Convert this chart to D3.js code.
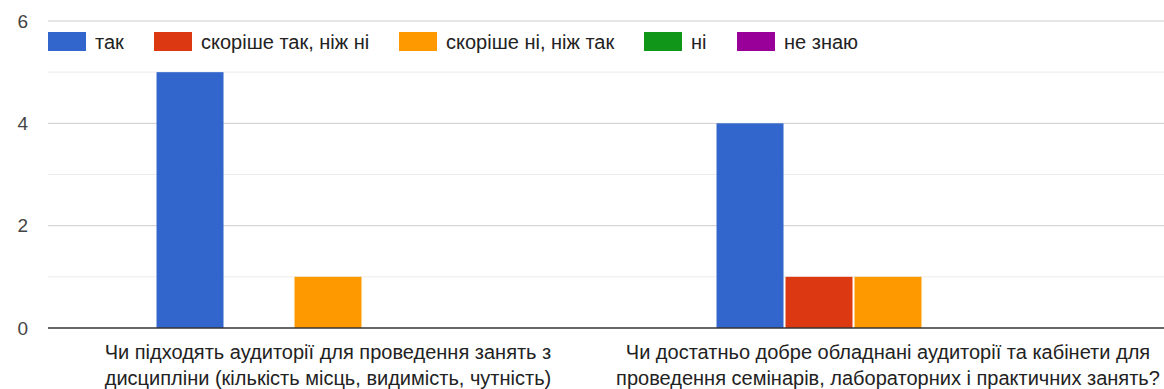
<!DOCTYPE html>
<html><head><meta charset="utf-8">
<script src="https://cdn.jsdelivr.net/npm/d3@7"></script>
<style>html,body{margin:0;padding:0;background:#fff;}svg{display:block;font-family:Arial,"Liberation Sans",sans-serif;}</style>
</head><body>
<svg id="c" width="1164" height="389"></svg>
<script>
const categories = ["q1", "q2"];
const categoryLines = [
  ["Чи підходять аудиторії для проведення занять з", "дисципліни (кількість місць, видимість, чутність)"],
  ["Чи достатньо добре обладнані аудиторії та кабінети для", "проведення семінарів, лабораторних і практичних занять?"]
];
const seriesNames = ["так", "скоріше так, ніж ні", "скоріше ні, ніж так", "ні", "не знаю"];
const seriesColors = ["#3366cc", "#dc3912", "#ff9900", "#109618", "#990099"];
const valTak = [5, 4];
const valRatherYes = [0, 1];
const valRatherNo = [1, 1];
const valNo = [0, 0];
const valDontKnow = [0, 0];
const seriesValues = [valTak, valRatherYes, valRatherNo, valNo, valDontKnow];
const yTicks = [0, 2, 4, 6];
const yMinor = [1, 3, 5];

const svg = d3.select("#c");
const pLeft = 48, pRight = 1168, pTop = 21, pBottom = 328;
const x = d3.scaleBand().domain(categories).range([pLeft, pRight]).paddingInner(0.384).paddingOuter(0.192);
const xs = d3.scaleBand().domain(seriesNames).range([0, x.bandwidth()]);
const y = d3.scaleLinear().domain([0, 6]).range([pBottom, pTop]);

// minor gridlines
svg.append("g").selectAll("line").data(yMinor).join("line")
  .attr("x1", pLeft).attr("x2", 1164).attr("y1", d => y(d)).attr("y2", d => y(d))
  .attr("stroke", "#ebebeb").attr("stroke-width", 1);
// major gridlines
svg.append("g").selectAll("line").data(yTicks.filter(d => d !== 0)).join("line")
  .attr("x1", pLeft).attr("x2", 1164).attr("y1", d => y(d)).attr("y2", d => y(d))
  .attr("stroke", "#cccccc").attr("stroke-width", 1);

// y axis labels
const yAxis = d3.axisLeft(y).tickValues(yTicks).tickSize(0).tickPadding(0).tickFormat(d3.format("d"));
const ya = svg.append("g").attr("transform", "translate(28,0)").call(yAxis);
ya.select(".domain").remove();
ya.selectAll("text").attr("font-size", 19).attr("fill", "#444").attr("font-family", "Arial, 'Liberation Sans', sans-serif");

// bars
const rows = [];
seriesNames.forEach((s, si) => categories.forEach((c, ci) => rows.push({s, si, c, v: seriesValues[si][ci]})));
svg.append("g").selectAll("rect").data(rows.filter(r => r.v > 0)).join("rect")
  .attr("x", r => x(r.c) + xs(r.s) + 1)
  .attr("width", xs.bandwidth() - 2)
  .attr("y", r => y(r.v))
  .attr("height", r => y(0) - y(r.v))
  .attr("fill", r => seriesColors[r.si]);

// baseline
svg.append("line").attr("x1", pLeft).attr("x2", 1164).attr("y1", y(0)).attr("y2", y(0))
  .attr("stroke", "#333").attr("stroke-width", 1.5);

// x axis labels
const xg = svg.append("g");
categories.forEach((c, ci) => {
  const t = xg.append("text").attr("x", x(c) + x.bandwidth() / 2).attr("text-anchor", "middle")
    .attr("font-size", 20).attr("fill", "#222");
  categoryLines[ci].forEach((ln, li) => {
    t.append("tspan").attr("x", x(c) + x.bandwidth() / 2).attr("y", 359 + li * 26).text(ln);
  });
});

// legend
const legX = [48, 154, 399, 644, 737];
const lg = svg.append("g");
seriesNames.forEach((s, i) => {
  const g = lg.append("g").attr("transform", `translate(${legX[i]},32)`);
  g.append("rect").attr("width", 38).attr("height", 19).attr("fill", seriesColors[i]);
  g.append("text").attr("x", 47).attr("y", 17).attr("font-size", 20).attr("fill", "#222").text(s);
});
</script>
</body></html>
